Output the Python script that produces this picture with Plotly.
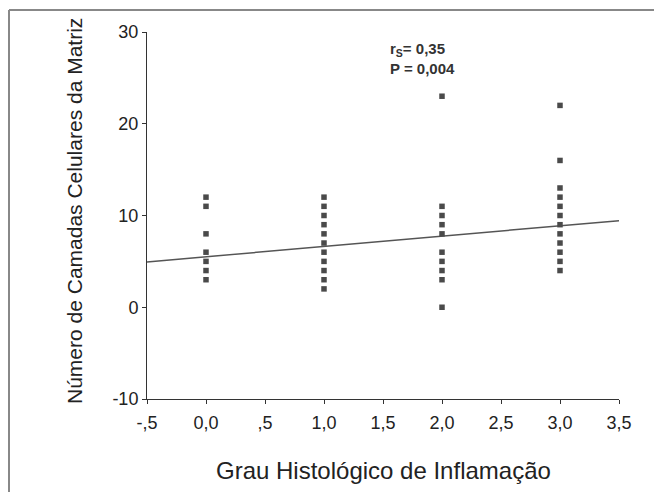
import plotly.graph_objects as go

# Data
grau_0 = [12, 11, 8, 6, 5, 4, 3]
grau_1 = [12, 11, 10, 9, 8, 7, 6, 5, 4, 3, 2]
grau_2 = [23, 11, 10, 9, 8, 6, 5, 4, 3, 0]
grau_3 = [22, 16, 13, 12, 11, 10, 9, 8, 7, 6, 5, 4]
grupos = [0, 1, 2, 3]
fit_x = [-0.5, 3.5]
fit_y = [4.94, 9.44]
x_tickvals = [-0.5, 0, 0.5, 1, 1.5, 2, 2.5, 3, 3.5]
x_ticktext = ["-,5", "0,0", ",5", "1,0", "1,5", "2,0", "2,5", "3,0", "3,5"]
y_tickvals = [-10, 0, 10, 20, 30]
y_ticktext = ["-10", "0", "10", "20", "30"]

xs, ys = [], []
for g, vals in zip(grupos, [grau_0, grau_1, grau_2, grau_3]):
    xs += [g] * len(vals)
    ys += vals

fig = go.Figure()
fig.add_trace(go.Scatter(x=fit_x, y=fit_y, mode="lines",
                         line=dict(color="#555555", width=1.5), hoverinfo="skip"))
fig.add_trace(go.Scatter(x=xs, y=ys, mode="markers",
                         marker=dict(symbol="square", size=5.5, color="#4a4a4a",
                                     line=dict(width=0))))

font_main = "Liberation Sans, Arial, sans-serif"
W, H = 654, 492
L, R, T, B = 147, 35, 32, 93
pw, ph = W - L - R, H - T - B

def px(x):
    return (x - L) / pw

def py(y):
    return (H - B - y) / ph

fig.update_layout(
    width=W, height=H,
    margin=dict(l=L, r=R, t=T, b=B),
    paper_bgcolor="white", plot_bgcolor="white",
    showlegend=False,
    font=dict(family=font_main, color="#222222"),
    xaxis=dict(range=[-0.5, 3.5], tickvals=x_tickvals, ticktext=x_ticktext,
               showgrid=False, zeroline=False, showline=True, linecolor="#333333",
               linewidth=1, ticks="outside", ticklen=4, tickcolor="#333333",
               ticklabelstandoff=3,
               tickfont=dict(size=18, family=font_main, color="#222222")),
    yaxis=dict(range=[-10, 30], tickvals=y_tickvals, ticktext=y_ticktext,
               showgrid=False, zeroline=False, showline=True, linecolor="#333333",
               linewidth=1, ticks="outside", ticklen=4, tickcolor="#333333",
               tickfont=dict(size=18, family=font_main, color="#222222")),
    annotations=[
        dict(text="r<sub>S</sub>= 0,35<br>P = 0,004", x=1.54, y=27.15,
             xref="x", yref="y", xanchor="left", yanchor="middle", align="left",
             showarrow=False,
             font=dict(size=15, family="Liberation Sans Narrow, Arial Narrow, Liberation Sans, Arial",
                       color="#333333", weight="bold")),
        dict(text="Grau Histológico de Inflamação", x=px(383), y=py(470),
             xref="paper", yref="paper", xanchor="center", yanchor="middle",
             showarrow=False, font=dict(size=24, family=font_main, color="#222222")),
        dict(text="Número de Camadas Celulares da Matriz", x=px(74), y=py(211),
             xref="paper", yref="paper", xanchor="center", yanchor="middle",
             textangle=-90, showarrow=False,
             font=dict(size=21, family=font_main, color="#222222")),
    ],
    shapes=[
        dict(type="line", xref="paper", yref="paper", x0=px(9), x1=px(700),
             y0=py(10), y1=py(10), line=dict(color="#888888", width=2)),
        dict(type="line", xref="paper", yref="paper", x0=px(9), x1=px(9),
             y0=py(10), y1=py(600), line=dict(color="#888888", width=2)),
    ],
)

fig.write_html("out.html")
